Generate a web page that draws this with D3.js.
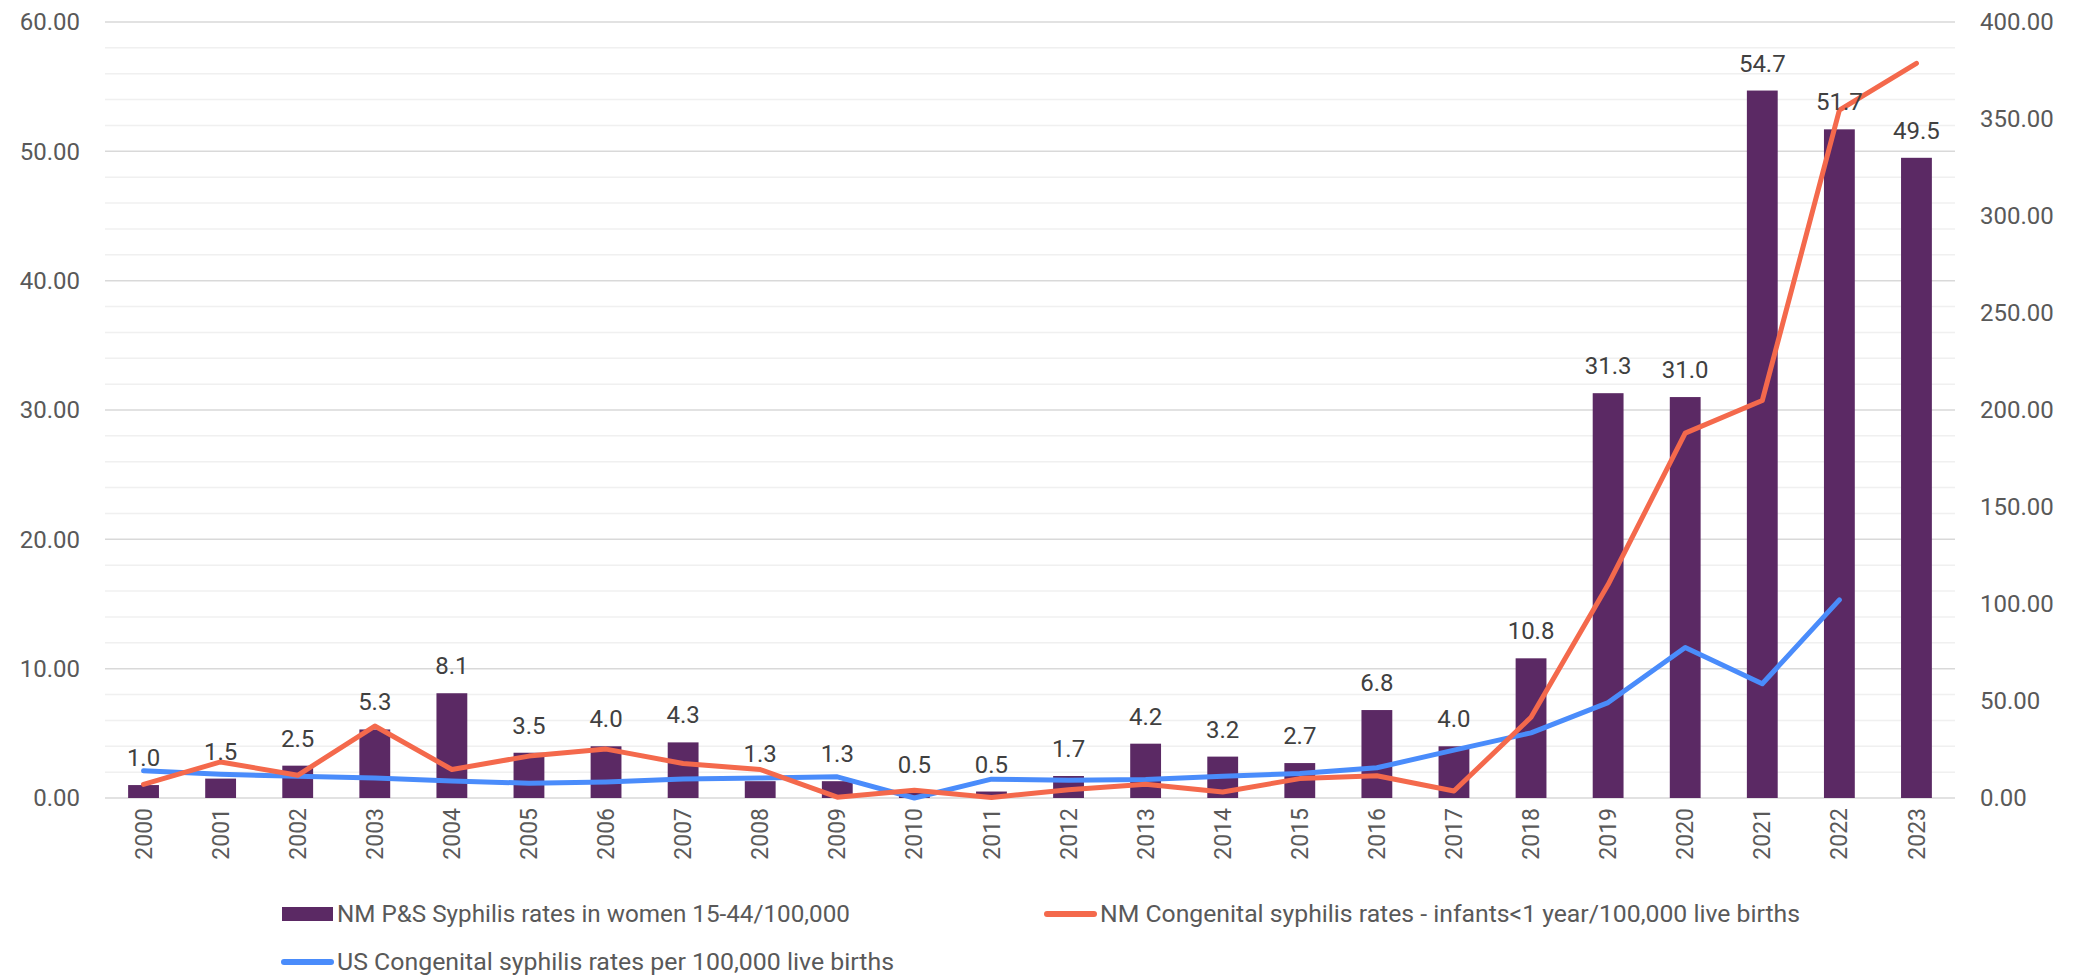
<!DOCTYPE html>
<html>
<head>
<meta charset="utf-8">
<script src="https://cdn.jsdelivr.net/npm/d3@7"></script>
<style>
  html, body { margin: 0; padding: 0; background: #ffffff; }
  svg { display: block; font-family: Roboto, "Noto Sans", sans-serif; }
</style>
</head>
<body>
<svg id="chart" width="2074" height="977"></svg>
<script>
const years = ["2000","2001","2002","2003","2004","2005","2006","2007","2008","2009","2010","2011","2012","2013","2014","2015","2016","2017","2018","2019","2020","2021","2022","2023"];
const nmWomenRates = [1.0,1.5,2.5,5.3,8.1,3.5,4.0,4.3,1.3,1.3,0.5,0.5,1.7,4.2,3.2,2.7,6.8,4.0,10.8,31.3,31.0,54.7,51.7,49.5];
const nmCongenital = [7.0,18.6,11.7,37.1,14.7,21.6,25.2,17.8,14.7,0.4,4.0,0.3,4.2,7.1,3.1,10.0,11.5,3.6,41.6,110.0,188.1,204.9,354.6,378.7];
const usCongenital = [14.0,12.2,11.2,10.3,8.8,7.6,8.3,9.8,10.3,10.9,0.0,9.7,9.1,9.5,11.2,12.6,15.6,24.7,33.6,49.2,77.6,58.9,102.1,null];
const leftTicks = [0,10,20,30,40,50,60];
const rightTicks = [0,50,100,150,200,250,300,350,400];
const minorTicks = [2,4,6,8,12,14,16,18,22,24,26,28,32,34,36,38,42,44,46,48,52,54,56,58];
const seriesNames = ["NM P&S Syphilis rates in women 15-44/100,000",
                     "NM Congenital syphilis rates - infants<1 year/100,000 live births",
                     "US Congenital syphilis rates per 100,000 live births"];

const colors = { bar: "#5B2964", orange: "#F4694C", blue: "#4A8CFB", grid: "#d9d9d9", minor: "#f0f0f0", tick: "#595959", label: "#404040" };

const svg = d3.select("#chart");
const plot = { left: 105, right: 1955, top: 22, bottom: 798 };

const x = d3.scaleBand().domain(years).range([plot.left, plot.right]).paddingInner(0.6).paddingOuter(0.3);
const yL = d3.scaleLinear().domain([0, 60]).range([plot.bottom, plot.top]);
const yR = d3.scaleLinear().domain([0, 400]).range([plot.bottom, plot.top]);
const cx = d => x(d) + x.bandwidth() / 2;

// minor gridlines
svg.append("g").selectAll("line").data(minorTicks).join("line")
  .attr("x1", plot.left).attr("x2", plot.right)
  .attr("y1", d => yL(d)).attr("y2", d => yL(d))
  .attr("stroke", colors.minor).attr("stroke-width", 1.5);
// major gridlines
svg.append("g").selectAll("line").data(leftTicks).join("line")
  .attr("x1", plot.left).attr("x2", plot.right)
  .attr("y1", d => yL(d)).attr("y2", d => yL(d))
  .attr("stroke", colors.grid).attr("stroke-width", 1.5);

// left axis labels
const leftAxis = svg.append("g").attr("transform", `translate(${plot.left - 25},0)`)
  .call(d3.axisLeft(yL).tickValues(leftTicks).tickFormat(d3.format(".2f")).tickSize(0).tickPadding(0));
leftAxis.select(".domain").remove();
leftAxis.selectAll("text").attr("fill", colors.tick).style("font-size", "24px").style("font-family", "Roboto, sans-serif");

// right axis labels
const rightAxis = svg.append("g").attr("transform", `translate(${plot.right + 25},0)`)
  .call(d3.axisRight(yR).tickValues(rightTicks).tickFormat(d3.format(".2f")).tickSize(0).tickPadding(0));
rightAxis.select(".domain").remove();
rightAxis.selectAll("text").attr("fill", colors.tick).style("font-size", "24px").style("font-family", "Roboto, sans-serif");

// x axis labels rotated
const xAxis = svg.append("g").attr("transform", `translate(0,${plot.bottom})`)
  .call(d3.axisBottom(x).tickSize(0).tickPadding(0));
xAxis.select(".domain").remove();
xAxis.selectAll("text")
  .attr("fill", colors.tick).style("font-size", "23px").style("font-family", "Roboto, sans-serif")
  .attr("text-anchor", "end").attr("dy", "0.35em")
  .attr("transform", "translate(0,10) rotate(-90)")
  .attr("x", 0).attr("y", 0);

// bars
const barData = years.map((y, i) => ({ year: y, v: nmWomenRates[i] }));
svg.append("g").selectAll("rect").data(barData).join("rect")
  .attr("x", d => x(d.year)).attr("width", x.bandwidth())
  .attr("y", d => yL(d.v)).attr("height", d => yL(0) - yL(d.v))
  .attr("fill", colors.bar);

// lines
const lineGen = d3.line().defined(d => d.v !== null).x(d => cx(d.year)).y(d => yR(d.v));
const orangeData = years.map((y, i) => ({ year: y, v: nmCongenital[i] }));
const blueData = years.map((y, i) => ({ year: y, v: usCongenital[i] }));
svg.append("path").datum(blueData).attr("d", lineGen)
  .attr("fill", "none").attr("stroke", colors.blue).attr("stroke-width", 5).attr("stroke-linejoin", "round").attr("stroke-linecap", "round");
svg.append("path").datum(orangeData).attr("d", lineGen)
  .attr("fill", "none").attr("stroke", colors.orange).attr("stroke-width", 5).attr("stroke-linejoin", "round").attr("stroke-linecap", "round");

// data labels
svg.append("g").selectAll("text").data(barData).join("text")
  .attr("x", d => cx(d.year)).attr("y", d => yL(d.v) - 19)
  .attr("text-anchor", "middle").attr("fill", colors.label)
  .style("font-size", "24px")
  .text(d => d3.format(".1f")(d.v));

// legend
const legend = svg.append("g").style("font-size", "24px").attr("fill", colors.tick);
const leg = [
  { type: "rect", x: 282, y: 914, name: seriesNames[0], color: colors.bar, w: 513 },
  { type: "line", x: 1045, y: 914, name: seriesNames[1], color: colors.orange, w: 700 },
  { type: "line", x: 282, y: 962, name: seriesNames[2], color: colors.blue, w: 557 }
];
leg.forEach(l => {
  if (l.type === "rect") {
    legend.append("rect").attr("x", l.x).attr("y", l.y - 7).attr("width", 51).attr("height", 14).attr("fill", l.color);
  } else {
    legend.append("line").attr("x1", l.x + 2).attr("x2", l.x + 49).attr("y1", l.y).attr("y2", l.y)
      .attr("stroke", l.color).attr("stroke-width", 6).attr("stroke-linecap", "round");
  }
  legend.append("text").attr("x", l.x + 55).attr("y", l.y).attr("dy", "0.35em").attr("fill", colors.tick)
    .attr("textLength", l.w).attr("lengthAdjust", "spacingAndGlyphs").text(l.name);
});
</script>
</body>
</html>
